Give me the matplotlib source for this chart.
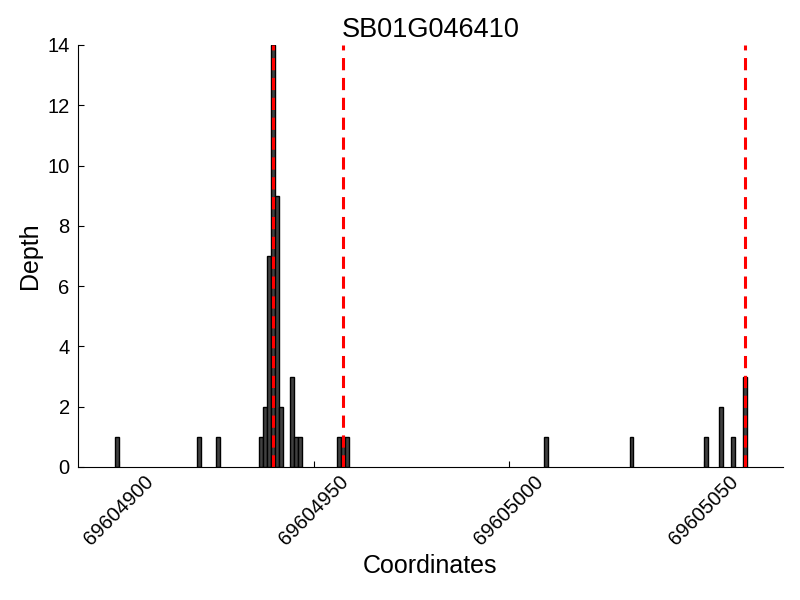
import matplotlib
matplotlib.use("Agg")
from matplotlib import pyplot as plt

plt.rcParams['font.family'] = ['Liberation Sans', 'DejaVu Sans']

# read depth per coordinate
coords = [69604899, 69604920, 69604925, 69604936, 69604937, 69604938,
          69604939, 69604940, 69604941, 69604944, 69604945, 69604946,
          69604956, 69604957, 69604958, 69605009, 69605031, 69605050,
          69605054, 69605057, 69605060]
depths = [1, 1, 1, 1, 2, 7, 14, 9, 2, 3, 1, 1, 1, 1, 1, 1, 1, 1, 2, 1, 3]
# marked sites (red dashed lines)
sites = [69604939.5, 69604957.5, 69605060.5]
gene = "SB01G046410"
xticks = [69604900, 69604950, 69605000, 69605050]

fig = plt.figure(figsize=(8, 6), dpi=100)
ax = fig.add_axes([0.0975, 0.2217, 0.881, 0.7033])

ax.bar(coords, depths, width=1, align='edge', color='#404040',
       edgecolor='black', linewidth=1)
for s in sites:
    ax.axvline(s, color='red', linestyle=(0, (4, 2.5)), linewidth=2.2)

ax.set_xlim(69604889.5, 69605070.3)
ax.set_ylim(0, 14)
ax.set_xticks(xticks)
ax.set_xticklabels([str(t) for t in xticks], rotation=45, fontsize=14.5)
ax.set_yticks(range(0, 15, 2))
ax.tick_params(axis='y', labelsize=14.5, direction='in', length=4, pad=6)
ax.tick_params(axis='x', direction='in', length=4)
ax.spines['top'].set_visible(False)
ax.spines['right'].set_visible(False)

ax.set_title(gene, fontsize=19.5)
ax.set_xlabel('Coordinates', fontsize=18)
ax.set_ylabel('Depth', fontsize=18)

fig.savefig('out.png')
